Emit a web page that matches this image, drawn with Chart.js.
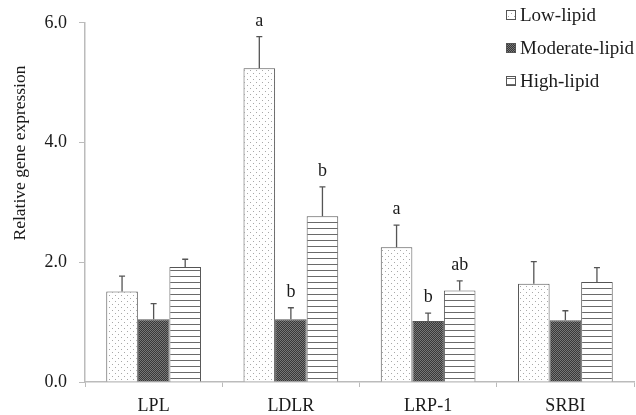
<!DOCTYPE html>
<html><head><meta charset="utf-8">
<script src="https://cdn.jsdelivr.net/npm/chart.js@4/dist/chart.umd.min.js"></script>
<style>html,body{margin:0;padding:0;background:#fff}#wrap{width:636px;height:415px;position:relative}</style>
</head><body><div id="wrap"><canvas id="c" width="636" height="415"></canvas></div>
<script>
const categories = ["LPL", "LDLR", "LRP-1", "SRBI"];
const seriesNames = ["Low-lipid", "Moderate-lipid", "High-lipid"];
const lowValues = [1.51, 5.24, 2.25, 1.64];
const moderateValues = [1.05, 1.05, 1.02, 1.03];
const highValues = [1.92, 2.77, 1.53, 1.67];
const lowErrors = [0.26, 0.53, 0.37, 0.37];
const moderateErrors = [0.26, 0.19, 0.13, 0.16];
const highErrors = [0.13, 0.49, 0.16, 0.24];
const lowLetters = ["", "a", "a", ""];
const moderateLetters = ["", "b", "b", ""];
const highLetters = ["", "b", "ab", ""];
const yTicks = [0, 2, 4, 6];

function makePattern(kind){
  const t = document.createElement('canvas');
  const g = t.getContext('2d');
  if(kind==='dots'){
    t.width=6;t.height=6;
    g.fillStyle='#fff';g.fillRect(0,0,6,6);
    g.fillStyle='#a8a8a8';
    g.fillRect(1,1,1,1);g.fillRect(4,4,1,1);
  } else if(kind==='dark'){
    t.width=2;t.height=2;
    g.fillStyle='#383838';g.fillRect(0,0,2,2);
    g.fillStyle='#767676';g.fillRect(0,0,1,1);g.fillRect(1,1,1,1);
  } else {
    t.width=4;t.height=6;
    g.fillStyle='#fff';g.fillRect(0,0,4,6);
    g.fillStyle='#6a6a6a';g.fillRect(0,0,4,1);
  }
  return g.createPattern(t,'repeat');
}
const ctx0 = document.getElementById('c').getContext('2d');
const patterns = [makePattern('dots'), makePattern('dark'), makePattern('lines')];
const errorSets = [lowErrors, moderateErrors, highErrors];
const letterSets = [lowLetters, moderateLetters, highLetters];
const FONT = '"Liberation Serif","Times New Roman",serif';

const extras = {
  id:'extras',
  afterDatasetsDraw(chart){
    const c = chart.ctx, ys = chart.scales.y;
    c.save();
    chart.data.datasets.forEach((ds,di)=>{
      const meta = chart.getDatasetMeta(di);
      meta.data.forEach((bar,i)=>{
        const v = ds.data[i], e = errorSets[di][i];
        const yTop = ys.getPixelForValue(v+e);
        const yBar = ys.getPixelForValue(v);
        c.strokeStyle='#555';c.lineWidth=1.3;
        c.beginPath();
        c.moveTo(bar.x, yBar); c.lineTo(bar.x, yTop);
        c.moveTo(bar.x-3, yTop); c.lineTo(bar.x+3, yTop);
        c.stroke();
        const L = letterSets[di][i];
        if(L){
          c.fillStyle='#1a1a1a';c.font='18px '+FONT;
          c.textAlign='center';c.textBaseline='alphabetic';
          c.fillText(L, bar.x, yTop-11);
        }
      });
    });
    // y-axis title
    c.fillStyle='#1a1a1a';c.font='17.5px '+FONT;
    c.translate(20,153);c.rotate(-Math.PI/2);
    c.textAlign='center';c.textBaseline='middle';
    c.fillText('Relative gene expression',0,0);
    c.restore();
    // legend
    c.save();
    const ly=[15,48,81];
    seriesNames.forEach((n,k)=>{
      c.fillStyle=patterns[k];
      c.fillRect(506,ly[k]-5,10,10);
      c.strokeStyle='#555';c.lineWidth=1;
      c.strokeRect(506.5,ly[k]-4.5,9,9);
      c.fillStyle='#1a1a1a';c.font='19px '+FONT;
      c.textAlign='left';c.textBaseline='middle';
      c.fillText(n,520,ly[k]+1);
    });
    c.restore();
  }
};

const mk = (label,data,k)=>({label,data,backgroundColor:patterns[k],borderColor:'#555',borderWidth:1,borderSkipped:'bottom',barPercentage:1.0,categoryPercentage:0.69});

new Chart(ctx0,{
  type:'bar',
  data:{labels:categories,datasets:[mk(seriesNames[0],lowValues,0),mk(seriesNames[1],moderateValues,1),mk(seriesNames[2],highValues,2)]},
  options:{
    responsive:false,animation:false,
    layout:{padding:{top:16,right:2,left:0,bottom:0}},
    plugins:{legend:{display:false},tooltip:{enabled:false}},
    scales:{
      x:{
        grid:{drawOnChartArea:false,color:'#bbb',tickLength:5,offset:true},
        border:{color:'#bbb',width:1.5},
        ticks:{color:'#1a1a1a',font:{family:FONT,size:18},padding:8},
        afterFit(s){s.height=33;}
      },
      y:{
        min:0,max:6,
        afterBuildTicks(s){s.ticks=yTicks.map(v=>({value:v}));},
        grid:{drawOnChartArea:false,color:'#bbb',tickLength:6},
        border:{color:'#bbb',width:1.5},
        ticks:{color:'#1a1a1a',font:{family:FONT,size:18},padding:12,callback:v=>Number(v).toFixed(1)},
        afterFit(s){s.width=85;}
      }
    }
  },
  plugins:[extras]
});
</script></body></html>
